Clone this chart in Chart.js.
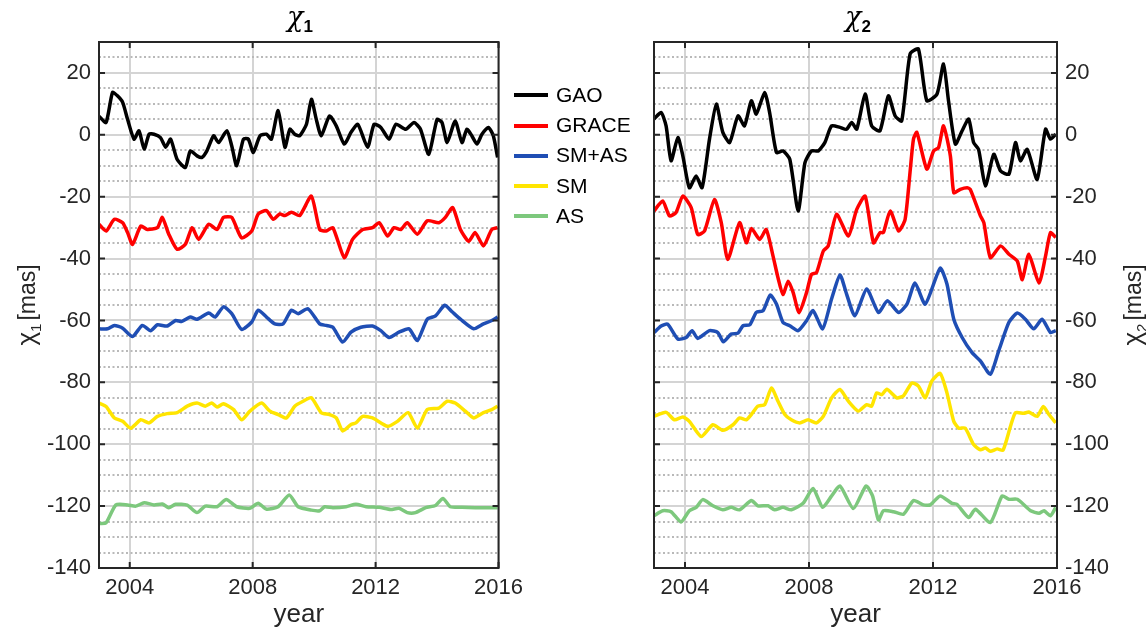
<!DOCTYPE html>
<html>
<head>
<meta charset="utf-8">
<script src="https://cdn.jsdelivr.net/npm/chart.js@4.4.1/dist/chart.umd.min.js"></script>
<style>
body { margin: 0; background: #fff; }
#page { position: relative; width: 1146px; height: 637px; overflow: hidden; font-family: 'Liberation Sans', Arial, sans-serif; color: #000; }
canvas { position: absolute; top: 0; }
.ttl { position: absolute; top: 1px; width: 200px; text-align: center; font-size: 27px; color: #000; }
.ttl i { font-family: 'DejaVu Serif', serif; }
.ttl sub { font-weight: bold; font-size: 17px; font-family: 'Liberation Sans', Arial, sans-serif; }
.ylab { position: absolute; width: 200px; height: 30px; line-height: 30px; text-align: center; font-size: 23px; color: #262626; transform: rotate(-90deg); white-space: nowrap; }
.ylab .chi { font-size: 26px; }
.ylab sub { font-size: 15px; margin-right: 3px; }
#legend { position: absolute; left: 514px; top: 80px; }
#legend div { height: 30.2px; line-height: 30px; font-size: 21px; white-space: nowrap; }
#legend span { display: inline-block; width: 34px; height: 4px; vertical-align: middle; margin-right: 8px; position: relative; top: -1px; }
</style>
</head>
<body>
<div id="page">
  <canvas id="c1" width="530" height="637" style="left:0"></canvas>
  <canvas id="c2" width="546" height="637" style="left:600px"></canvas>
  <div class="ttl" style="left:200px"><i>χ</i><sub>1</sub></div>
  <div class="ttl" style="left:758px"><i>χ</i><sub>2</sub></div>
  <div class="ylab" style="left:-74px;top:290px"><span class="chi">χ</span><sub>1</sub>[mas]</div>
  <div class="ylab" style="left:1032px;top:290px"><span class="chi">χ</span><sub>2</sub>[mas]</div>
  <div id="legend"></div>
</div>
<script>
const names = ['GAO', 'GRACE', 'SM+AS', 'SM', 'AS'];
const colors = ['#000000', '#ff0000', '#1f4eb4', '#ffe500', '#7dc87d'];
const xTicks = [2004, 2008, 2012, 2016];
const yTicks = [-140, -120, -100, -80, -60, -40, -20, 0, 20];

// chi_1 panel: [year, mas]
const gao1 = [[2003.00,6],[2003.23,4],[2003.44,13.7],[2003.60,12.6],[2003.77,10.5],[2003.93,5],[2004.14,-1.4],[2004.30,1.3],[2004.47,-4.6],[2004.63,0.2],[2004.79,0.2],[2005.00,-0.9],[2005.17,-4],[2005.33,-1.4],[2005.54,-7.9],[2005.81,-10.6],[2005.97,-5.2],[2006.19,-6.8],[2006.35,-7.3],[2006.51,-5.2],[2006.73,-0.3],[2006.89,-2.5],[2007.16,1.3],[2007.32,-3.6],[2007.48,-10],[2007.70,-1.4],[2007.86,-1.4],[2008.02,-5.7],[2008.24,-0.3],[2008.45,0.2],[2008.61,-1.4],[2008.83,7.8],[2009.05,-4],[2009.21,1.8],[2009.37,0.2],[2009.53,-0.3],[2009.75,3.4],[2009.91,11.5],[2010.07,5],[2010.23,-0.3],[2010.50,6.1],[2010.72,2.9],[2010.98,-3],[2011.20,0.8],[2011.42,3.4],[2011.74,-4],[2011.95,3.4],[2012.17,2.4],[2012.44,-1.4],[2012.66,3.4],[2012.98,1.8],[2013.25,4],[2013.46,1.8],[2013.73,-6.3],[2014.00,5],[2014.16,4],[2014.33,-2.5],[2014.59,4.5],[2014.81,-2.5],[2014.97,1.8],[2015.13,-0.3],[2015.30,-3],[2015.46,0.2],[2015.67,2.4],[2015.83,-0.3],[2015.97,-7.3]];
const grace1 = [[2003.00,-28.9],[2003.23,-31.1],[2003.50,-27.3],[2003.77,-28.4],[2003.93,-31.6],[2004.09,-35.4],[2004.36,-29.5],[2004.57,-30.6],[2004.90,-30],[2005.06,-26.7],[2005.27,-32.1],[2005.54,-37],[2005.81,-35.4],[2006.03,-30],[2006.24,-33.8],[2006.57,-28.9],[2006.84,-30.6],[2007.05,-26.7],[2007.32,-26.7],[2007.64,-33.3],[2007.97,-31.1],[2008.18,-25.6],[2008.45,-24.5],[2008.67,-27.3],[2008.88,-25.6],[2009.05,-26.1],[2009.26,-25],[2009.53,-26.1],[2009.91,-19.8],[2010.18,-30.6],[2010.39,-31.1],[2010.61,-30],[2010.98,-39.7],[2011.25,-33.8],[2011.58,-30.6],[2011.90,-30],[2012.12,-28.4],[2012.39,-32.7],[2012.60,-30],[2012.82,-30.6],[2013.03,-28.4],[2013.36,-32.1],[2013.68,-27.8],[2014.06,-28.4],[2014.27,-26.7],[2014.51,-23.5],[2014.76,-30.6],[2015.03,-34.4],[2015.24,-31.6],[2015.51,-35.9],[2015.78,-30.6],[2015.97,-30]];
const smas1 = [[2003.00,-62.7],[2003.28,-62.7],[2003.50,-61.6],[2003.77,-62.5],[2004.09,-65.2],[2004.41,-61.6],[2004.68,-63.3],[2004.90,-61.4],[2005.22,-61.8],[2005.49,-60],[2005.70,-60.3],[2005.97,-58.9],[2006.19,-59.6],[2006.57,-57.6],[2006.78,-58.9],[2007.05,-55.6],[2007.32,-57.8],[2007.64,-62.9],[2007.97,-60.5],[2008.18,-56.7],[2008.45,-58.9],[2008.72,-61.1],[2008.99,-61.1],[2009.26,-56.7],[2009.48,-57.8],[2009.80,-56.2],[2010.18,-61.1],[2010.39,-61.6],[2010.61,-62.2],[2010.93,-67],[2011.20,-63.8],[2011.52,-62.2],[2011.90,-61.8],[2012.17,-63.3],[2012.44,-65.5],[2012.76,-63.8],[2013.09,-62.7],[2013.36,-66.5],[2013.68,-59.6],[2013.95,-58.5],[2014.25,-55.1],[2014.49,-57.2],[2014.76,-59.6],[2015.19,-62.7],[2015.51,-61.1],[2015.78,-60],[2015.97,-58.9]];
const sm1 = [[2003.00,-86.7],[2003.23,-87.8],[2003.50,-91.5],[2003.77,-92.6],[2004.03,-94.8],[2004.36,-92.1],[2004.63,-93.1],[2004.90,-91],[2005.22,-90.1],[2005.54,-89.8],[2005.87,-87.7],[2006.19,-86.7],[2006.46,-87.7],[2006.67,-86.7],[2006.84,-88],[2007.05,-86.9],[2007.38,-88.8],[2007.64,-92.1],[2007.91,-89.3],[2008.29,-86.7],[2008.56,-89.3],[2008.83,-90.4],[2009.10,-91.5],[2009.37,-87.7],[2009.64,-86.1],[2009.91,-85],[2010.23,-89.8],[2010.50,-90.4],[2010.72,-91.5],[2010.93,-95.7],[2011.20,-93.6],[2011.36,-93.1],[2011.58,-91],[2011.90,-91.5],[2012.39,-94.2],[2012.71,-92.6],[2013.06,-89.8],[2013.36,-94.8],[2013.68,-88.8],[2014.06,-88.3],[2014.33,-86.1],[2014.59,-86.7],[2014.92,-89.3],[2015.19,-91.5],[2015.51,-89.8],[2015.78,-88.8],[2015.97,-87.7]];
const as1 = [[2003.00,-125.6],[2003.23,-125.4],[2003.55,-119.6],[2003.93,-119.6],[2004.20,-120],[2004.47,-118.9],[2004.79,-119.6],[2005.06,-119.3],[2005.27,-120.5],[2005.49,-119.4],[2005.87,-119.7],[2006.19,-122.1],[2006.46,-120],[2006.84,-120.2],[2007.14,-117.9],[2007.48,-120.2],[2007.91,-120.7],[2008.18,-119.1],[2008.45,-121],[2008.83,-120.2],[2009.19,-116.4],[2009.48,-120.2],[2009.91,-121.3],[2010.18,-121.5],[2010.34,-120.2],[2010.61,-120.5],[2011.04,-120.2],[2011.36,-119.4],[2011.69,-120.2],[2012.12,-120.4],[2012.49,-121.1],[2012.76,-120.7],[2013.03,-122.1],[2013.30,-122.1],[2013.63,-120.5],[2013.95,-119.8],[2014.19,-117.5],[2014.43,-120.2],[2014.81,-120.4],[2015.24,-120.5],[2015.67,-120.5],[2015.97,-120.5]];

// chi_2 panel: [year, mas]
const gao2 = [[2003.00,5.1],[2003.23,7.2],[2003.39,2.9],[2003.55,-8.4],[2003.77,-0.9],[2003.93,-6.8],[2004.14,-17.1],[2004.36,-13.3],[2004.55,-17.1],[2004.79,-1.4],[2005.01,9.9],[2005.22,0.8],[2005.44,-2.5],[2005.71,6.1],[2005.92,2.9],[2006.14,11],[2006.30,6.7],[2006.57,13.7],[2006.73,7.2],[2006.95,-5.7],[2007.16,-5.2],[2007.38,-7.9],[2007.65,-24.6],[2007.87,-9],[2008.08,-5.2],[2008.30,-5.2],[2008.51,-2.5],[2008.73,2.9],[2009.00,2.4],[2009.21,1.8],[2009.38,4],[2009.54,1.8],[2009.81,13.2],[2010.02,2.9],[2010.29,1.3],[2010.56,12.6],[2010.78,6.1],[2010.99,4.5],[2011.26,26.1],[2011.53,27.7],[2011.80,11],[2012.13,13.2],[2012.34,22.9],[2012.50,11],[2012.72,-3],[2012.94,1.3],[2013.15,5.1],[2013.31,-2.5],[2013.47,-4.7],[2013.69,-16.5],[2013.96,-6.3],[2014.18,-11.7],[2014.45,-12.7],[2014.66,-2.5],[2014.82,-8.4],[2015.04,-4.7],[2015.36,-14.4],[2015.63,1.8],[2015.79,-1.4],[2015.96,0.2]];
const grace2 = [[2003.00,-24.6],[2003.28,-21.4],[2003.50,-26.2],[2003.71,-25.1],[2003.93,-19.8],[2004.20,-23.5],[2004.41,-32.2],[2004.63,-31.1],[2004.95,-20.9],[2005.17,-28.4],[2005.38,-40.3],[2005.76,-28.4],[2005.98,-34.9],[2006.14,-30.3],[2006.41,-33.8],[2006.62,-30.6],[2006.84,-39.2],[2007.00,-46.2],[2007.16,-51.6],[2007.33,-47.3],[2007.49,-51],[2007.68,-57.5],[2007.92,-51],[2008.08,-45.1],[2008.24,-44.6],[2008.46,-37.6],[2008.62,-35.9],[2008.89,-25.7],[2009.27,-32.7],[2009.54,-24.1],[2009.81,-19.8],[2010.08,-34.9],[2010.29,-31.6],[2010.40,-31.6],[2010.62,-24.6],[2010.89,-31.1],[2011.10,-27.3],[2011.26,-12],[2011.37,-1.4],[2011.48,0.8],[2011.80,-11.1],[2012.02,-5.2],[2012.18,-4.1],[2012.34,2.9],[2012.56,-6.8],[2012.67,-18.7],[2012.88,-17.6],[2013.10,-17.1],[2013.20,-17.6],[2013.53,-26.2],[2013.64,-28.4],[2013.85,-39.7],[2014.18,-35.9],[2014.45,-38.6],[2014.72,-40.8],[2014.88,-46.8],[2015.09,-38.6],[2015.42,-47.9],[2015.63,-39.2],[2015.79,-31.6],[2015.96,-33.2]];
const smas2 = [[2003.00,-63.9],[2003.23,-61.8],[2003.44,-61.2],[2003.77,-66],[2004.04,-65.5],[2004.23,-63.3],[2004.41,-65.8],[2004.79,-63.3],[2005.06,-63.9],[2005.24,-66.9],[2005.49,-64.4],[2005.71,-64.1],[2005.87,-61.7],[2006.09,-61.4],[2006.30,-57.4],[2006.52,-56.8],[2006.75,-51.8],[2006.95,-54.7],[2007.16,-60.6],[2007.38,-61.7],[2007.65,-63.3],[2007.92,-60.1],[2008.13,-56.8],[2008.44,-62.7],[2008.73,-53],[2009.00,-45.3],[2009.21,-51.4],[2009.48,-58.5],[2009.86,-49.8],[2010.24,-57.4],[2010.53,-53.6],[2010.89,-57.4],[2011.16,-54.7],[2011.42,-47.9],[2011.75,-54.7],[2012.23,-43.1],[2012.45,-48.2],[2012.67,-59.6],[2012.94,-65.5],[2013.26,-70.4],[2013.53,-73.1],[2013.85,-77.4],[2014.12,-69.8],[2014.45,-60.6],[2014.72,-57.6],[2014.98,-59.6],[2015.25,-62.7],[2015.52,-59.6],[2015.79,-63.9],[2015.96,-63.3]];
const sm2 = [[2003.00,-91],[2003.39,-89.7],[2003.66,-92.1],[2003.93,-91.2],[2004.14,-92.6],[2004.52,-97.5],[2004.90,-93.7],[2005.22,-95.5],[2005.55,-93.7],[2005.76,-91.5],[2005.98,-92.1],[2006.14,-90.4],[2006.35,-87.7],[2006.57,-87.2],[2006.79,-81.8],[2007.00,-86.1],[2007.22,-90.4],[2007.43,-92.1],[2007.70,-93.1],[2007.97,-92.1],[2008.24,-93.1],[2008.46,-91],[2008.73,-85],[2009.00,-82.3],[2009.27,-86.1],[2009.59,-89.3],[2009.86,-87.2],[2010.02,-87.7],[2010.18,-83.4],[2010.35,-84],[2010.51,-82.2],[2010.83,-85],[2011.05,-84.3],[2011.32,-80.2],[2011.53,-81.2],[2011.75,-85],[2011.96,-79.6],[2012.23,-77.1],[2012.45,-83.4],[2012.67,-92.6],[2012.83,-94.8],[2013.04,-94.8],[2013.31,-100.1],[2013.53,-101.8],[2013.69,-101.2],[2013.85,-102.3],[2014.07,-101.5],[2014.26,-101.9],[2014.50,-94.2],[2014.66,-89.8],[2014.93,-90],[2015.09,-89.6],[2015.36,-91],[2015.56,-87.8],[2015.74,-90.4],[2015.96,-93.1]];
const as2 = [[2003.00,-123.1],[2003.28,-121.5],[2003.55,-121.8],[2003.87,-125.1],[2004.14,-121.5],[2004.36,-120.4],[2004.57,-117.9],[2004.90,-119.9],[2005.22,-121.2],[2005.49,-120.4],[2005.76,-121.2],[2006.14,-118.2],[2006.35,-119.9],[2006.68,-119.9],[2006.89,-121.2],[2007.16,-120.4],[2007.43,-121.2],[2007.81,-119.1],[2008.13,-114.3],[2008.44,-120.4],[2008.73,-116.7],[2009.00,-113.5],[2009.43,-120.8],[2009.84,-113.5],[2010.05,-116.7],[2010.24,-124.5],[2010.40,-121.5],[2010.72,-121.8],[2011.05,-122.6],[2011.37,-118.2],[2011.69,-119.6],[2011.91,-119.6],[2012.23,-116.7],[2012.61,-119.1],[2012.77,-119.4],[2013.15,-123.7],[2013.37,-121],[2013.85,-125.3],[2014.23,-116.7],[2014.45,-117.8],[2014.72,-117.8],[2015.15,-121.5],[2015.42,-122.3],[2015.58,-121.5],[2015.79,-123.1],[2015.96,-120.4]];

const FONT = "'Liberation Sans', Arial, sans-serif";
const TEXT = '#262626';

// minor grid every 5 mas, labels only on the 20 mas ticks
const yGrid = [];
for (let v = -140; v <= 30; v += 5) yGrid.push(v);

// box around the axes with inward tick marks (MATLAB style)
const framePlugin = {
  id: 'frame',
  afterDraw(chart) {
    const { ctx, chartArea: a, scales: { x, y } } = chart;
    ctx.save();
    ctx.strokeStyle = TEXT;
    ctx.lineWidth = 2;
    ctx.beginPath();
    for (const v of yTicks) {
      const p = y.getPixelForValue(v);
      ctx.moveTo(a.left, p); ctx.lineTo(a.left + 6, p);
      ctx.moveTo(a.right, p); ctx.lineTo(a.right - 6, p);
    }
    for (const v of xTicks) {
      const p = x.getPixelForValue(v);
      ctx.moveTo(p, a.bottom); ctx.lineTo(p, a.bottom - 6);
      ctx.moveTo(p, a.top); ctx.lineTo(p, a.top + 6);
    }
    ctx.stroke();
    ctx.strokeRect(a.left, a.top, a.right - a.left, a.bottom - a.top);
    ctx.restore();
  }
};

function makePanel(id, series, side, padding, yWidth) {
  return new Chart(document.getElementById(id), {
    type: 'line',
    data: {
      datasets: series.map((s, i) => ({
        label: names[i],
        data: s.map(p => ({ x: p[0], y: p[1] })),
        borderColor: colors[i],
        borderWidth: 3.5,
        pointRadius: 0,
        tension: 0.2,
        fill: false,
      })),
    },
    options: {
      responsive: false,
      animation: false,
      devicePixelRatio: 1,
      layout: { padding: padding },
      plugins: { legend: { display: false }, tooltip: { enabled: false } },
      scales: {
        x: {
          type: 'linear', min: 2003, max: 2016,
          afterBuildTicks: s => { s.ticks = xTicks.map(v => ({ value: v })); },
          afterFit: s => { s.height = 69; },
          ticks: { callback: v => String(v), color: TEXT, font: { size: 22, family: FONT }, padding: 7, maxRotation: 0, autoSkip: false },
          grid: { color: '#d4d4d4', lineWidth: 2, drawTicks: false },
          border: { display: false },
          title: { display: true, text: 'year', color: TEXT, font: { size: 26, family: FONT }, padding: { top: 0, bottom: 7 } },
        },
        y: {
          position: side, min: -140, max: 30,
          afterBuildTicks: s => { s.ticks = yGrid.map(v => ({ value: v })); },
          afterFit: s => { s.width = yWidth; },
          ticks: { callback: v => (v % 20 === 0 ? String(v) : ''), color: TEXT, font: { size: 22, family: FONT }, padding: 8, autoSkip: false },
          grid: {
            color: c => (c.tick && c.tick.value % 20 !== 0 ? '#b9b9b9' : '#d4d4d4'),
            lineWidth: 2,
            drawTicks: false,
          },
          border: { display: false, dash: c => (c.tick && c.tick.value % 20 !== 0 ? [2, 2.5] : []) },
        },
      },
    },
    plugins: [framePlugin],
  });
}

makePanel('c1', [gao1, grace1, smas1, sm1, as1], 'left', { left: 0, right: 30, top: 42, bottom: 0 }, 99);
makePanel('c2', [gao2, grace2, smas2, sm2, as2], 'right', { left: 54, right: 0, top: 42, bottom: 0 }, 89);

const legend = document.getElementById('legend');
names.forEach((n, i) => {
  const row = document.createElement('div');
  const sw = document.createElement('span');
  sw.style.background = colors[i];
  row.appendChild(sw);
  row.appendChild(document.createTextNode(n));
  legend.appendChild(row);
});
</script>
</body>
</html>
